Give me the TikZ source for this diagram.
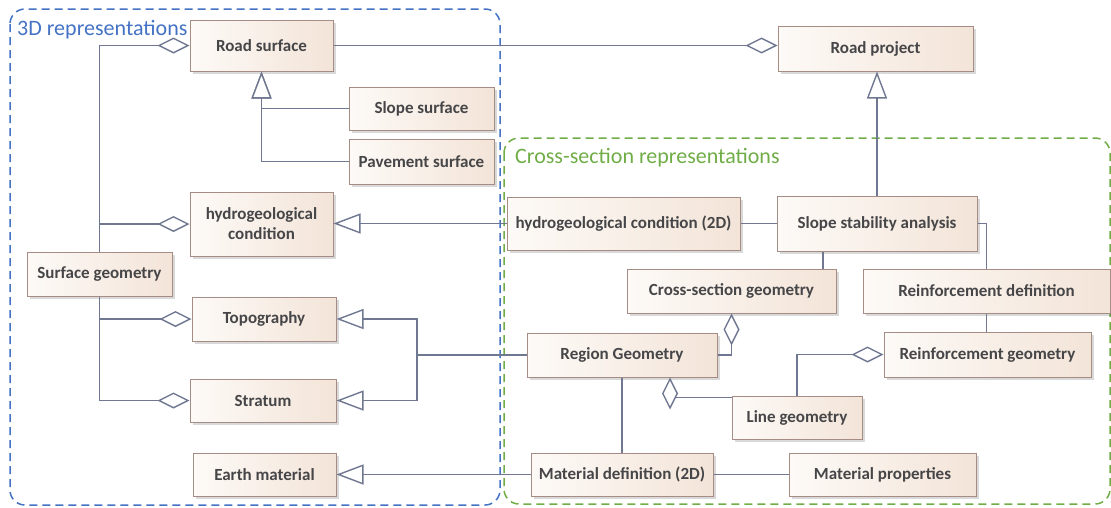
\documentclass[tikz,border=0pt]{standalone}
\usepackage{fontspec}
\setmainfont{Carlito}
\usetikzlibrary{arrows.meta,shadows,calc}
\definecolor{boxL}{RGB}{253,250,247}
\definecolor{boxR}{RGB}{243,228,216}
\definecolor{boxB}{RGB}{165,140,132}
\definecolor{txt}{RGB}{70,70,72}
\definecolor{lc}{RGB}{112,120,145}
\definecolor{grpB}{RGB}{68,114,196}
\definecolor{grpG}{RGB}{112,173,71}
\tikzset{
  box/.style={rectangle, draw=boxB, line width=1pt, left color=boxL, right color=boxR,
    drop shadow={shadow xshift=3pt,shadow yshift=-3pt,fill=black,opacity=0.15},
    inner sep=0pt, align=center, text=txt,
    font=\bfseries\fontsize{17}{20}\selectfont},
  conn/.style={draw=lc, line width=1.4pt},
  agg/.style={conn, -{Diamond[fill=white,length=32pt,width=16pt]}},
  gen/.style={conn, -{Triangle[fill=white,length=27pt,width=20pt]}},
  grp/.style={dashed, dash pattern=on 8pt off 5pt, line width=1.5pt, rounded corners=15pt},
  grplabel/.style={anchor=west, inner sep=0pt, font=\fontsize{22}{26}\selectfont}
}
\begin{document}
\begin{tikzpicture}[x=1pt,y=-1pt]
\useasboundingbox (0,0) rectangle (1111,507);
% groups
\draw[grp, draw=grpB] (10,9) rectangle (500,505);
\node[grplabel, text=grpB] (lab3d) at (17,30) {3D representations};
\draw[grp, draw=grpG] (504,138) rectangle (1110,504);
\node[grplabel, text=grpG] (labcs) at (515,158) {Cross-section representations};
% boxes
\node[box, minimum width=143pt, minimum height=51pt] (RS) at (261.5,45.5) {Road surface};
\node[box, minimum width=145pt, minimum height=43pt] (SlS) at (421.5,108.5) {Slope surface};
\node[box, minimum width=145pt, minimum height=45pt] (PS) at (421.5,161.5) {Pavement surface};
\node[box, minimum width=143pt, minimum height=64pt] (HC) at (261.5,224) {hydrogeological\\condition};
\node[box, minimum width=145pt, minimum height=44pt] (SG) at (99.5,274) {Surface geometry};
\node[box, minimum width=144pt, minimum height=44pt] (Topo) at (264,319) {Topography};
\node[box, minimum width=146pt, minimum height=43pt] (Str) at (263,400.5) {Stratum};
\node[box, minimum width=143pt, minimum height=43pt] (EM) at (264.5,474.5) {Earth material};
\node[box, minimum width=195pt, minimum height=45pt] (RP) at (875.5,48.5) {Road project};
\node[box, minimum width=233pt, minimum height=53pt] (H2) at (623.5,223.5) {hydrogeological condition (2D)};
\node[box, minimum width=200pt, minimum height=55pt] (SSA) at (877,223.5) {Slope stability analysis};
\node[box, minimum width=209pt, minimum height=44pt] (CSG) at (731.5,291) {Cross-section geometry};
\node[box, minimum width=247pt, minimum height=44pt] (RD) at (986.5,291) {Reinforcement definition};
\node[box, minimum width=190pt, minimum height=44pt] (RegG) at (622,355) {Region Geometry};
\node[box, minimum width=207pt, minimum height=45pt] (RGm) at (987.5,354.5) {Reinforcement geometry};
\node[box, minimum width=130pt, minimum height=43pt] (LG) at (797,417.5) {Line geometry};
\node[box, minimum width=182pt, minimum height=43pt] (MD) at (622,474.5) {Material definition (2D)};
\node[box, minimum width=187pt, minimum height=43pt] (MP) at (882.5,474.5) {Material properties};
% connectors
\draw[agg] (SG.north) |- (RS.west);
\draw[agg] (SG.north) |- (HC.west);
\draw[agg] (SG.south) |- (Topo.west);
\draw[agg] (SG.south) |- (Str.west);
\draw[gen] (SlS.west) -| (RS.south);
\draw[gen] (PS.west) -| (RS.south);
\draw[agg] (RS.east) -- (RS.east -| RP.west);
\draw[gen] (SSA.north) -- (SSA.north |- RP.south);
\draw[gen] (H2.west) -- (H2.west -| HC.east);
\draw[conn] (H2.east) -- (H2.east -| SSA.west);
\draw[conn] ([xshift=-54pt]SSA.south) -- ([xshift=-54pt]SSA.south |- CSG.north);
\draw[conn] (SSA.east) -| (RD.north);
\draw[conn] (RD.south) -- (RD.south |- RGm.north);
\draw[agg] (RegG.east) -| (CSG.south);
\draw[agg] ([yshift=-2pt]LG.north west) -| ([xshift=48pt]RegG.south);
\draw[agg] (LG.north) |- (RGm.west);
\draw[conn] (RegG.south) -- (MD.north);
\draw[conn] (MD.east) -- (MP.west);
\draw[gen] (MD.west) -- (MD.west -| EM.east);
\coordinate (J) at (417,355);
\draw[gen] (RegG.west) -- (J) |- (Topo.east);
\draw[gen] (J) |- (Str.east);
\end{tikzpicture}
\end{document}
